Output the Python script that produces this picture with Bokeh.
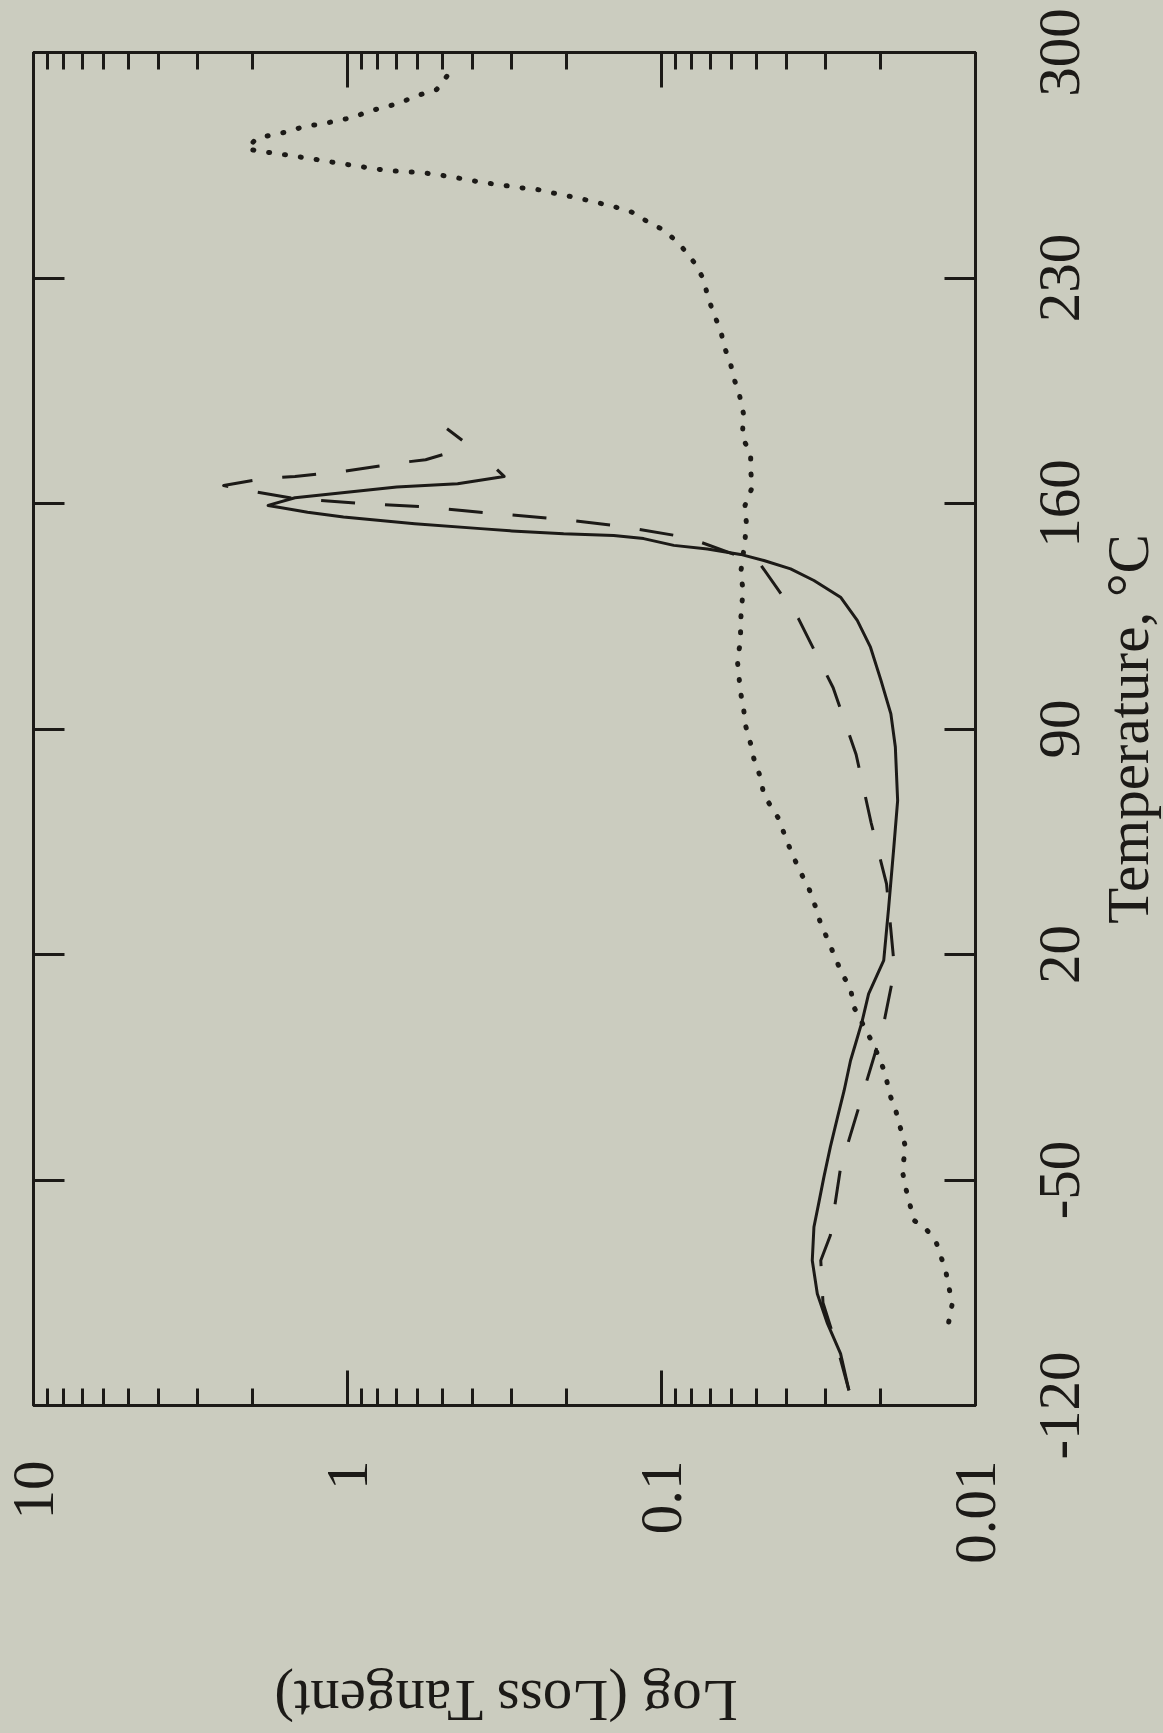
import math

from bokeh.embed import file_html
from bokeh.layouts import column, row
from bokeh.models import (CustomJSTickFormatter, FixedTicker, Label, LinearAxis,
                          LogAxis, Range1d)
from bokeh.plotting import figure
from bokeh.resources import INLINE

INK = "#1c1a17"
PAPER = "#cbccbf"
FONT = "Liberation Serif"
FONT_SIZE = "59px"

# ---- axes ---------------------------------------------------------------
temp_ticks = [-120, -50, 20, 90, 160, 230, 300]
temp_tick_labels = ["-120", "-50", "20", "90", "160", "230", "300"]
tan_ticks = [0.01, 0.1, 1, 10]
tan_tick_labels = ["0.01", "0.1", "1", "10"]
tan_minor_ticks = [m * 10.0 ** e for e in (-2, -1, 0) for m in range(2, 10)]

temp_title = "Temperature, °C"
tan_title = "Log (Loss Tangent)"

# ---- series: temperature (°C) vs loss tangent -------------------------
solid_temp = [-115.3, -103.9, -94.6, -85.3, -75.0, -64.6, -57.4, -49.1, -39.8,
              -30.5, -22.2, -12.9, -7.7, -1.0, 7.8, 18.2, 34.7, 53.3, 67.8,
              84.4, 94.7, 105.1, 115.4, 123.7, 130.9, 136.1, 139.7, 142.3,
              144.2, 145.9, 147.0, 149.1, 150.1, 150.6, 151.5, 152.2, 153.7,
              155.8, 157.3, 159.4, 161.8, 165.1, 166.1, 168.4, 170.5]
solid_tan = [0.0253, 0.0269, 0.0296, 0.0319, 0.0331, 0.0327, 0.0316, 0.0304,
             0.0290, 0.0275, 0.0262, 0.0250, 0.0241, 0.0230, 0.0219, 0.0196,
             0.0189, 0.0182, 0.0177, 0.0180, 0.0186, 0.0200, 0.0216, 0.0238,
             0.0269, 0.0327, 0.0388, 0.0472, 0.0560, 0.0714, 0.0914, 0.114,
             0.142, 0.205, 0.30, 0.377, 0.611, 1.03, 1.34, 1.79, 1.47, 0.697,
             0.446, 0.317, 0.334]

dashed_temp = [-115.3, -103.9, -88.1, -75.0, -67.2, -46.2, -24.8, -2.5, 15.3,
               41.9, 60.9, 82.1, 102.8, 124.2, 141.3, 148.0, 149.6, 153.0,
               155.2, 156.9, 158.9, 160.0, 161.5, 164.0, 165.6, 167.7, 168.4,
               170.0, 173.0, 173.6, 176.5, 179.0, 183.2]
dashed_tan = [0.0253, 0.0272, 0.0306, 0.0311, 0.0290, 0.0269, 0.0231, 0.0197,
              0.0181, 0.0192, 0.0215, 0.0240, 0.0284, 0.0366, 0.0486, 0.0751,
              0.0846, 0.136, 0.214, 0.343, 0.557, 0.904, 1.47, 2.07, 2.48,
              1.86, 1.47, 1.03, 0.635, 0.564, 0.446, 0.423, 0.482]

dotted_temp = [-94.1, -88.4, -78.1, -68.8, -65.1, -62.5, -58.4, -52.2, -47.0,
               -39.8, -28.4, -22.7, -17.5, -11.8, -6.2, 3.7, 9.4, 14.0, 18.7,
               23.8, 29.5, 34.7, 40.4, 45.6, 51.3, 56.4, 62.1, 66.3, 69.4,
               75.0, 80.8, 85.4, 91.1, 95.8, 101.4, 106.6, 111.8, 117.0, 122.1,
               127.3, 133.0, 138.2, 148.5, 154.2, 159.4, 165.1, 170.3, 175.4,
               180.6, 187.8, 193.5, 198.2, 203.4, 208.5, 213.7, 219.4, 224.3,
               229.8, 234.9, 240.1, 244.7, 247.3, 250.4, 252.0, 253.2, 254.2,
               255.4, 256.4, 257.5, 258.0, 258.7, 259.4, 260.2, 261.1, 262.0,
               262.7, 263.0, 263.3, 263.9, 264.6, 265.4, 266.2, 267.1, 267.8,
               268.6, 269.3, 270.1, 273.3, 274.5, 275.4, 277.2, 277.7, 278.9,
               279.9, 281.8, 283.1, 284.6, 286.6, 288.5, 293.6]
dotted_tan = [0.01217, 0.01186, 0.01245, 0.01340, 0.01442, 0.01571, 0.01610,
              0.01671, 0.01711, 0.0167, 0.01795, 0.01888, 0.0193, 0.0203,
              0.0216, 0.0244, 0.0250, 0.0266, 0.0279, 0.0293, 0.0311, 0.0323,
              0.0339, 0.0361, 0.0384, 0.0403, 0.0423, 0.0450, 0.0472, 0.0484,
              0.0508, 0.0520, 0.0540, 0.0547, 0.0560, 0.0567, 0.0574, 0.0560,
              0.0560, 0.0557, 0.0549, 0.0560, 0.0542, 0.0537, 0.0542, 0.0514,
              0.0520, 0.0520, 0.0553, 0.0548, 0.0564, 0.0585, 0.0603, 0.0630,
              0.0648, 0.0685, 0.0712, 0.0736, 0.0788, 0.0869, 0.0975, 0.110,
              0.124, 0.140, 0.157, 0.173, 0.197, 0.222, 0.249, 0.280, 0.315,
              0.355, 0.401, 0.448, 0.512, 0.578, 0.653, 0.733, 0.820, 0.910,
              1.03, 1.16, 1.31, 1.48, 1.66, 1.89, 2.09, 1.95, 1.73, 1.55, 1.36,
              1.22, 1.07, 0.955, 0.855, 0.753, 0.673, 0.600, 0.520, 0.474]

# ---- geometry -----------------------------------------------------------
W, H = 1163, 1733
LEFT, TOP, FRAME_W, FRAME_H = 33, 52, 942, 1353
RIGHT_PAD = 35                         # keeps the "0.01" label whole
BOTTOM_BAND = 228                      # room for the loss-tangent tick labels
MAIN_W = LEFT + FRAME_W + RIGHT_PAD
MAIN_H = TOP + FRAME_H + BOTTOM_BAND
SIDE_W = W - MAIN_W                    # strip carrying the temperature labels
FOOT_H = H - MAIN_H                    # band carrying the loss-tangent title


def plain(fig):
    fig.background_fill_color = PAPER
    fig.border_fill_color = PAPER
    fig.outline_line_color = None
    fig.xgrid.visible = False
    fig.ygrid.visible = False
    return fig


# ---- main plot ------------------------------------------------------------
p = plain(figure(frame_width=FRAME_W, frame_height=FRAME_H, x_axis_type="log",
                 x_range=Range1d(tan_ticks[-1], tan_ticks[0]),
                 y_range=Range1d(temp_ticks[0], temp_ticks[-1]),
                 output_backend="svg", toolbar_location=None,
                 min_border_left=LEFT, min_border_top=TOP,
                 min_border_right=RIGHT_PAD, min_border_bottom=BOTTOM_BAND))
p.outline_line_color = INK
p.outline_line_width = 3

tan_formatter = CustomJSTickFormatter(
    args=dict(tick_values=tan_ticks, tick_texts=tan_tick_labels),
    code="""
        for (let i = 0; i < tick_values.length; i++) {
            if (Math.abs(tick_values[i] - tick) <= 1e-9 * tick_values[i]) {
                return tick_texts[i];
            }
        }
        return '';
    """)
blank_formatter = CustomJSTickFormatter(code="return '';")


def style_axis(ax, major_in, minor_in, labelled=False):
    ax.axis_line_color = INK
    ax.axis_line_width = 3
    ax.major_tick_line_color = INK
    ax.major_tick_line_width = 3
    ax.major_tick_in = major_in
    ax.major_tick_out = 0
    ax.minor_tick_line_color = INK if minor_in else None
    ax.minor_tick_line_width = 3
    ax.minor_tick_in = minor_in
    ax.minor_tick_out = 0
    ax.major_label_text_font = FONT
    ax.major_label_text_color = INK
    if labelled:
        ax.major_label_text_font_size = FONT_SIZE
    else:
        ax.formatter = blank_formatter
        ax.major_label_text_font_size = "0px"
        ax.major_label_standoff = 0


# loss tangent: labelled below, ticks only above
bottom = p.below[0]
bottom.ticker = FixedTicker(ticks=tan_ticks, minor_ticks=tan_minor_ticks)
bottom.formatter = tan_formatter
style_axis(bottom, 35, 17, labelled=True)
bottom.major_label_orientation = math.pi / 2
bottom.major_label_standoff = 55

top = LogAxis(ticker=FixedTicker(ticks=tan_ticks, minor_ticks=tan_minor_ticks))
style_axis(top, 35, 17)
p.add_layout(top, "above")

# temperature: ticks on both long edges
left = p.left[0]
left.ticker = FixedTicker(ticks=temp_ticks, minor_ticks=[])
style_axis(left, 31, 0)

right = LinearAxis(ticker=FixedTicker(ticks=temp_ticks, minor_ticks=[]))
style_axis(right, 31, 0)
p.add_layout(right, "right")

p.line(x=solid_tan, y=solid_temp, line_color=INK, line_width=3,
       line_join="round")
p.line(x=dashed_tan, y=dashed_temp, line_color=INK, line_width=3,
       line_dash="34 30", line_join="round")
p.line(x=dotted_tan, y=dotted_temp, line_color=INK, line_width=5,
       line_dash="1 15", line_cap="round", line_join="round")

# ---- full-height strip on the right: temperature labels and title ------
# Its temperature scale continues the main one past the frame's ends, so the
# labels sit level with the ticks.
t_lo, t_hi = temp_ticks[0], temp_ticks[-1]
deg_per_px = (t_hi - t_lo) / FRAME_H
side_range = Range1d(t_lo - (H - TOP - FRAME_H) * deg_per_px,
                     t_hi + TOP * deg_per_px)
side = plain(figure(frame_width=SIDE_W, frame_height=H,
                    x_range=Range1d(0, 1), y_range=side_range,
                    output_backend="svg", toolbar_location=None,
                    x_axis_location=None, y_axis_location=None,
                    min_border_left=0, min_border_right=0,
                    min_border_top=0, min_border_bottom=0))

for t, lab in zip(temp_ticks, temp_tick_labels):
    side.add_layout(Label(x=49, y=t, x_units="screen", y_units="data",
                          text=lab, angle=math.pi / 2, text_align="center",
                          text_baseline="middle", text_font=FONT,
                          text_font_size=FONT_SIZE, text_color=INK))

side.add_layout(Label(x=117, y=(t_lo + t_hi) / 2, x_units="screen",
                      y_units="data", text=temp_title, angle=math.pi / 2,
                      text_align="center", text_baseline="middle",
                      text_font=FONT, text_font_size=FONT_SIZE,
                      text_color=INK))

# ---- band underneath: loss tangent title, upside down --------------------
foot = plain(figure(frame_width=MAIN_W, frame_height=FOOT_H,
                    x_range=Range1d(0, 1), y_range=Range1d(0, 1),
                    output_backend="svg", toolbar_location=None,
                    x_axis_location=None, y_axis_location=None,
                    min_border_left=0, min_border_right=0,
                    min_border_top=0, min_border_bottom=0))
foot.add_layout(Label(x=LEFT + FRAME_W / 2 - 32, y=FOOT_H - 67,
                      x_units="screen", y_units="screen", text=tan_title,
                      angle=math.pi, text_align="center",
                      text_baseline="middle", text_font=FONT,
                      text_font_size=FONT_SIZE, text_color=INK))

paper = {"background-color": PAPER}
layout = row(column(p, foot, spacing=0, styles=paper), side, spacing=0,
             styles=paper)

open("out.html", "w").write(file_html(layout, INLINE))
